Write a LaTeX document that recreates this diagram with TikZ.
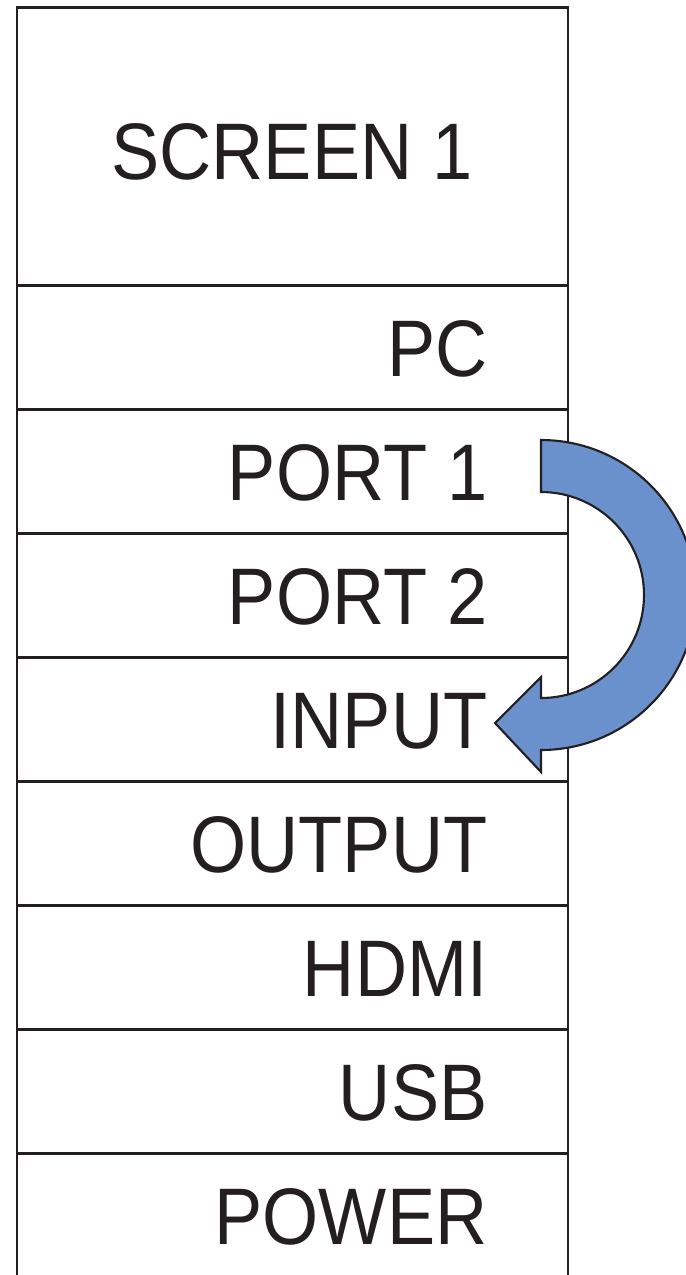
\documentclass[tikz,border=0pt]{standalone}
\usepackage{fontspec}
\setmainfont{Liberation Sans}[FakeStretch=0.9]
\definecolor{ink}{HTML}{231F20}
\definecolor{arrblue}{HTML}{6A91CB}
\tikzset{lbl/.style={text=ink, inner sep=0pt, font=\fontsize{22.8}{27}\selectfont},
  frame/.style={draw=ink, line width=.85pt}}
\begin{document}
\begin{tikzpicture}[x=.01cm, y=-.01cm]
\useasboundingbox (0,0) rectangle (686,1275);
\clip (0,0) rectangle (686,1275);
\draw [frame] (17,1280)--(17,7)--(568,7)--(568,1280);
\foreach \y in {285,409,533,657,781,905,1029,1153}
  \draw [frame] (17,\y)--(568,\y);
\node [lbl, anchor=base] (screen) at (292,179) {SCREEN 1};
\foreach \t/\n [count=\i from 0] in {PC/pc,PORT 1/port1,PORT 2/port2,INPUT/input,OUTPUT/output,HDMI/hdmi,USB/usb,POWER/power}
  \node [lbl, anchor=base east] (\n) at (488,{376+124*\i}) {\t};
\coordinate (c) at (541,595);
\draw [fill=arrblue, draw=ink, line width=.6pt, line join=miter]
  (541,440) arc [start angle=-90, end angle=90, radius=155]
  --(541,772)--(495,723)--(541,677)--(541,698)
  arc [start angle=90, end angle=-90, radius=103]--cycle;
\end{tikzpicture}
\end{document}
